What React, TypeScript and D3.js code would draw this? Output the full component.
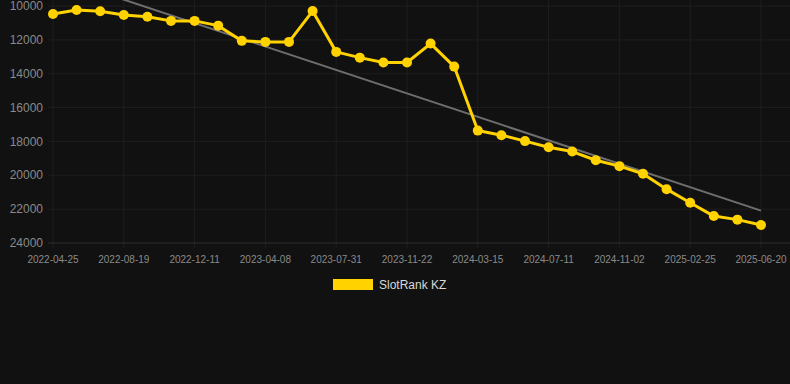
import React from "react";
import * as d3 from "d3";

const tickLabels = [
  "2022-04-25", "2022-08-19", "2022-12-11", "2023-04-08", "2023-07-31",
  "2023-11-22", "2024-03-15", "2024-07-11", "2024-11-02", "2025-02-25", "2025-06-20",
];
const rankValues = [
  10470, 10240, 10310, 10530, 10630, 10880, 10880, 11160, 12060, 12120, 12120,
  10300, 12710, 13050, 13340, 13340, 12220, 13580, 17360, 17630, 17980, 18340,
  18600, 19110, 19460, 19910, 20820, 21620, 22410, 22620, 22940,
];
const trendValues = [8240, 22090];
const yTicks = [10000, 12000, 14000, 16000, 18000, 20000, 22000, 24000];
const seriesName = "SlotRank KZ";

const W = 790;
const H = 384;
const left = 53;
const right = 761;
const top = 6;
const bottom = 243;

export default function App() {
  const x = d3.scaleLinear().domain([0, rankValues.length - 1]).range([left, right]);
  const y = d3.scaleLinear().domain([10000, 24000]).range([top, bottom]);
  const line = d3.line<number>().x((_, i) => x(i)).y((d) => y(d));
  const tickEvery = 3;
  const gold = "#FFD200";
  return (
    <svg
      width={W}
      height={H}
      style={{ position: "absolute", left: 0, top: 0, background: "#111111", fontFamily: "Arial, 'Liberation Sans', sans-serif" }}
    >
      <defs>
        <clipPath id="plot">
          <rect x={left - 10} y={0} width={W - left + 10} height={bottom} />
        </clipPath>
      </defs>
      <rect x={0} y={0} width={W} height={H} fill="#111111" />
      {tickLabels.map((lab, k) => {
        const xi = x(k * tickEvery);
        return (
          <g key={lab}>
            <line x1={xi} x2={xi} y1={0} y2={bottom + 5} stroke="#1e1e1e" strokeWidth={1} />
            <text x={xi} y={259} dy="0.35em" textAnchor="middle" fontSize={10} fill="#8a8a8a">
              {lab}
            </text>
          </g>
        );
      })}
      {yTicks.map((t) => (
        <g key={t}>
          <line x1={48} x2={W} y1={y(t)} y2={y(t)} stroke={t === 24000 ? "#2e2e2e" : "#1e1e1e"} strokeWidth={1} />
          <text x={43} y={y(t)} dy="0.35em" textAnchor="end" fontSize={12} fill="#8a8a8a">
            {t}
          </text>
        </g>
      ))}
      <g clipPath="url(#plot)">
        <line
          x1={x(0)}
          x2={x(rankValues.length - 1)}
          y1={y(trendValues[0])}
          y2={y(trendValues[1])}
          stroke="#6e6e6e"
          strokeWidth={2}
        />
      </g>
      <path d={line(rankValues) || ""} fill="none" stroke={gold} strokeWidth={3} strokeLinejoin="round" />
      {rankValues.map((v, i) => (
        <circle key={i} cx={x(i)} cy={y(v)} r={5} fill={gold} />
      ))}
      <rect x={333} y={279} width={40} height={11} fill={gold} />
      <text x={379} y={285} dy="0.35em" fontSize={12} fill="#d8d8d8">
        {seriesName}
      </text>
    </svg>
  );
}
